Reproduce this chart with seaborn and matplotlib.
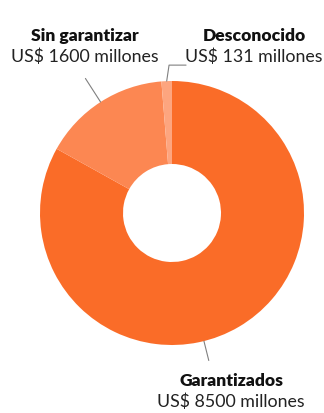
import numpy as np
import matplotlib.pyplot as plt
import seaborn as sns

# data
categorias = ['Garantizados', 'Sin garantizar', 'Desconocido']
montos = [8500, 1600, 131]
etiquetas = ['US$ 8500 millones', 'US$ 1600 millones', 'US$ 131 millones']
colores = ['#FA6C28', '#FC8752', '#FDA57F']

sns.set_theme(style='white')
plt.rcParams['font.family'] = ['Lato', 'DejaVu Sans']

W, H = 324, 414
fig = plt.figure(figsize=(W / 100, H / 100), dpi=100)
ax = fig.add_axes([0, 0, 1, 1])
ax.axis('off')

cx, cy, R = 172, H - 214, 132
wedges, _ = ax.pie(montos, colors=colores, startangle=90, counterclock=False,
                   radius=R, center=(cx, cy),
                   wedgeprops=dict(width=R - 49, linewidth=0))
ax.set_xlim(0, W)
ax.set_ylim(0, H)
ax.set_aspect('equal')

# label layout (text centers in pixels from top-left, leader angle offsets)
text_pos = [(231, 381), (85, 36), (254, 36)]
leader_angle = [166, None, None]
leader_len = [20, 28, 16]

total = sum(montos)
start = 0
for i, (cat, val) in enumerate(zip(categorias, montos)):
    frac = val / total * 360
    mid = start + frac / 2
    start += frac
    ang = leader_angle[i] if leader_angle[i] is not None else mid
    th = np.deg2rad(ang)
    x0, y0 = cx + R * np.sin(th), cy + R * np.cos(th)
    x1 = cx + (R + leader_len[i]) * np.sin(th)
    y1 = cy + (R + leader_len[i]) * np.cos(th)
    if cat == 'Desconocido':
        ax.plot([x0, x1 + 3, x1 + 20], [y0, y1, y1], color='#808080', lw=0.8)
    else:
        ax.plot([x0, x1], [y0, y1], color='#808080', lw=0.8)
    tx, ty = text_pos[i]
    ax.text(tx, H - ty, cat, ha='center', va='center', fontsize=12.6,
            fontweight='heavy', color='#111111')
    ax.text(tx, H - ty - 21, etiquetas[i], ha='center', va='center',
            fontsize=12.8, color='#222222')

fig.savefig('out.png', dpi=100)
